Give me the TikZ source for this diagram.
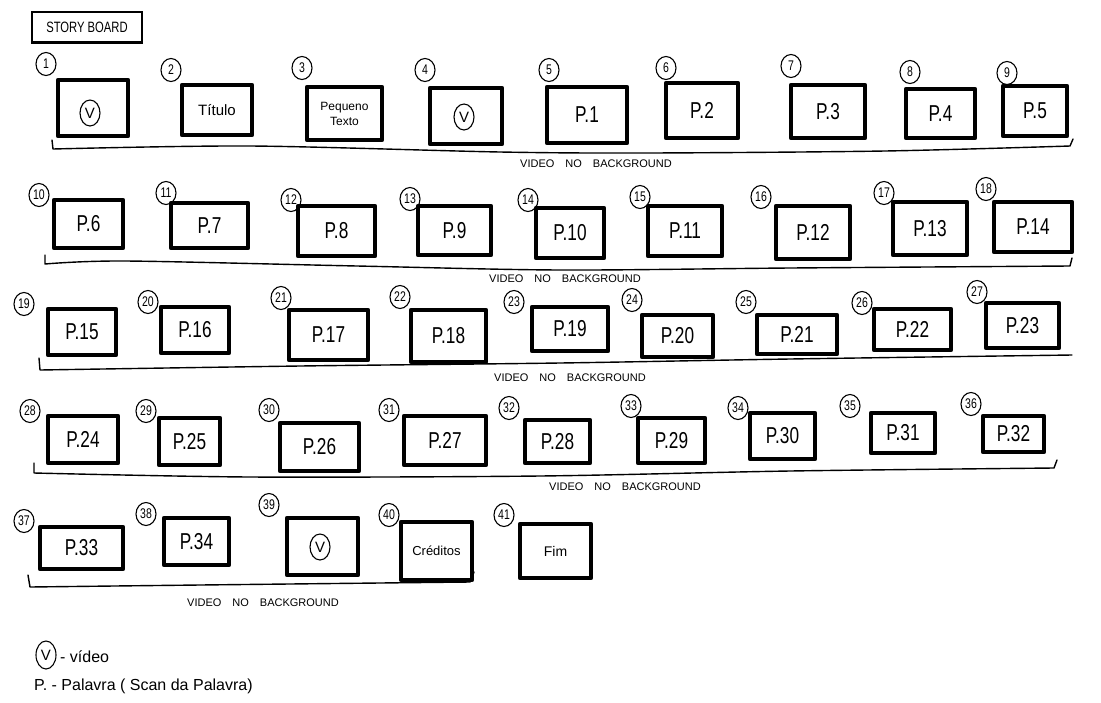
\documentclass[tikz,border=0pt]{standalone}
\usepackage{fontspec}
\newfontfamily\hand[FakeStretch=0.75]{Liberation Sans}
\newfontfamily\handw{Liberation Sans}
\usetikzlibrary{shapes.geometric}
\tikzset{
  frame/.style={draw, line width=4.5pt, line join=round, inner sep=0pt, align=center,
                font=\hand\fontsize{23}{23}\selectfont},
  num/.style={draw, ellipse, line width=1.1pt, inner sep=0pt, minimum width=20pt,
              minimum height=23pt, font=\hand\fontsize{14}{14}\selectfont},
  vsym/.style={draw, ellipse, line width=1.1pt, inner sep=0pt, minimum width=20pt,
               minimum height=26pt, font=\handw\fontsize{15}{15}\selectfont},
  brace/.style={line width=1.4pt, line join=round, line cap=round},
  lbl/.style={font=\handw\fontsize{11}{11}\selectfont},
  legend/.style={anchor=west, inner sep=0pt, font=\handw\fontsize{16}{16}\selectfont},
}
\newcommand\frm[7][]{%
  \pgfmathsetmacro\fw{#5-#3}\pgfmathsetmacro\fh{#6-#4}%
  \pgfmathsetmacro\fx{(#3+#5)/2}\pgfmathsetmacro\fy{(#4+#6)/2}%
  \node[frame, minimum width=\fw pt, minimum height=\fh pt, #1] (#2) at (\fx,\fy) {#7};}
\newcommand\nm[4]{\node[num] (#1) at (#2,#3) {#4};}
\begin{document}
\begin{tikzpicture}[x=1pt,y=-1pt]
\fill[white] (0,0) rectangle (1101,702);
\useasboundingbox (0,0) rectangle (1101,702);

% title
\node[draw, line width=1.3pt, minimum width=110pt, minimum height=30pt, inner sep=0pt,
      font=\hand\fontsize{15}{15}\selectfont] (title) at (87,27) {STORY BOARD};
\draw[line width=2.4pt] (title.south west) -- (title.south east);

% row 1
\nm{n1}{46}{64}{1}   \frm{b1}{58}{80}{128}{136}{}
\node[vsym] (v1) at (90,113) {V};
\nm{n2}{171}{70}{2}  \frm[font=\handw\fontsize{15}{15}\selectfont]{b2}{182}{85}{252}{135}{Título}
\nm{n3}{302}{68}{3}  \frm[font=\handw\fontsize{12}{15}\selectfont]{b3}{307}{87}{382}{140}{Pequeno\\Texto}
\nm{n4}{425}{70}{4}  \frm{b4}{430}{88}{502}{144}{}
\node[vsym] (v4) at (464,117) {V};
\nm{n5}{549}{70}{5}  \frm{b5}{547}{87}{627}{143}{P.1}
\nm{n6}{666}{68}{6}  \frm{b6}{666}{83}{738}{138}{P.2}
\nm{n7}{791}{66}{7}  \frm{b7}{791}{85}{865}{138}{P.3}
\nm{n8}{910}{72}{8}  \frm{b8}{906}{89}{975}{138}{P.4}
\nm{n9}{1007}{73}{9} \frm{b9}{1003}{86}{1067}{136}{P.5}
\draw[brace] (52,140) -- plot[smooth] coordinates {(53,149) (250,146) (500,152) (647,153) (885,151) (1070,146)} -- (1073,139);
\node[lbl] (l1) at (596,164) {VIDEO\quad NO\quad BACKGROUND};

% row 2
\nm{n10}{39}{195}{10}   \frm{b10}{54}{200}{123}{248}{P.6}
\nm{n11}{166}{193}{11}  \frm{b11}{171}{203}{248}{248}{P.7}
\nm{n12}{291}{200}{12}  \frm{b12}{298}{206}{375}{256}{P.8}
\nm{n13}{410}{199}{13}  \frm{b13}{418}{206}{491}{255}{P.9}
\nm{n14}{528}{200}{14}  \frm{b14}{536}{208}{604}{258}{P.10}
\nm{n15}{640}{197}{15}  \frm{b15}{648}{206}{722}{256}{P.11}
\nm{n16}{761}{197}{16}  \frm{b16}{776}{206}{850}{259}{P.12}
\nm{n17}{884}{193}{17}  \frm{b17}{893}{202}{967}{255}{P.13}
\nm{n18}{986}{189}{18}  \frm{b18}{994}{202}{1072}{252}{P.14}
\draw[brace] (45,255) -- plot[smooth] coordinates {(45,264) (125,261) (357,266) (560,270) (790,268) (1070,266)} -- (1072,258);
\node[lbl] (l2) at (565,279) {VIDEO\quad NO\quad BACKGROUND};

% row 3
\nm{n19}{24}{304}{19}   \frm{b19}{48}{309}{116}{355}{P.15}
\nm{n20}{148}{302}{20}  \frm{b20}{161}{307}{229}{353}{P.16}
\nm{n21}{281}{298}{21}  \frm{b21}{289}{310}{368}{360}{P.17}
\nm{n22}{400}{297}{22}  \frm{b22}{411}{310}{486}{362}{P.18}
\nm{n23}{514}{302}{23}  \frm{b23}{532}{307}{608}{351}{P.19}
\nm{n24}{632}{300}{24}  \frm{b24}{642}{315}{713}{357}{P.20}
\nm{n25}{746}{302}{25}  \frm{b25}{757}{315}{837}{354}{P.21}
\nm{n26}{862}{303}{26}  \frm{b26}{874}{309}{951}{350}{P.22}
\nm{n27}{977}{292}{27}  \frm{b27}{986}{303}{1059}{348}{P.23}
\draw[brace] (39,358) -- plot[smooth] coordinates {(40,370) (300,366) (560,363) (790,359) (1072,355)};
\node[lbl] (l3) at (570,378) {VIDEO\quad NO\quad BACKGROUND};

% row 4
\nm{n28}{30}{411}{28}   \frm{b28}{48}{416}{118}{463}{P.24}
\nm{n29}{146}{411}{29}  \frm{b29}{159}{418}{220}{465}{P.25}
\nm{n30}{269}{410}{30}  \frm{b30}{280}{423}{359}{471}{P.26}
\nm{n31}{389}{410}{31}  \frm{b31}{404}{416}{486}{465}{P.27}
\nm{n32}{509}{408}{32}  \frm{b32}{525}{420}{590}{463}{P.28}
\nm{n33}{631}{406}{33}  \frm{b33}{638}{418}{705}{463}{P.29}
\nm{n34}{738}{408}{34}  \frm{b34}{750}{413}{815}{459}{P.30}
\nm{n35}{850}{406}{35}  \frm{b35}{871}{413}{935}{453}{P.31}
\nm{n36}{971}{404}{36}  \frm{b36}{983}{416}{1044}{452}{P.32}
\draw[brace] (34,463) -- plot[smooth] coordinates {(34,473) (250,477) (540,476) (790,471) (1054,468)} -- (1057,460);
\node[lbl] (l4) at (625,487) {VIDEO\quad NO\quad BACKGROUND};

% row 5
\nm{n37}{24}{521}{37}   \frm{b37}{40}{527}{123}{569}{P.33}
\nm{n38}{146}{514}{38}  \frm{b38}{164}{518}{229}{565}{P.34}
\nm{n39}{269}{505}{39}  \frm{b39}{287}{518}{358}{575}{}
\node[vsym] (v39) at (320,547) {V};
\nm{n40}{389}{515}{40}  \frm[font=\handw\fontsize{13}{13}\selectfont]{b40}{401}{522}{472}{580}{Créditos}
\nm{n41}{504}{515}{41}  \frm[font=\handw\fontsize{14}{14}\selectfont]{b41}{520}{524}{591}{578}{Fim}
\draw[brace] (28,575) -- plot[smooth] coordinates {(30,587) (200,585) (470,582)} -- (474,572);
\node[lbl] (l5) at (263,603) {VIDEO\quad NO\quad BACKGROUND};

% legend
\node[vsym, minimum height=28pt] (vl) at (46,655) {V};
\node[legend] (vt) at (60,657) {- vídeo};
\node[legend] (pl) at (34,686) {P. - Palavra ( Scan da Palavra)};
\end{tikzpicture}
\end{document}
